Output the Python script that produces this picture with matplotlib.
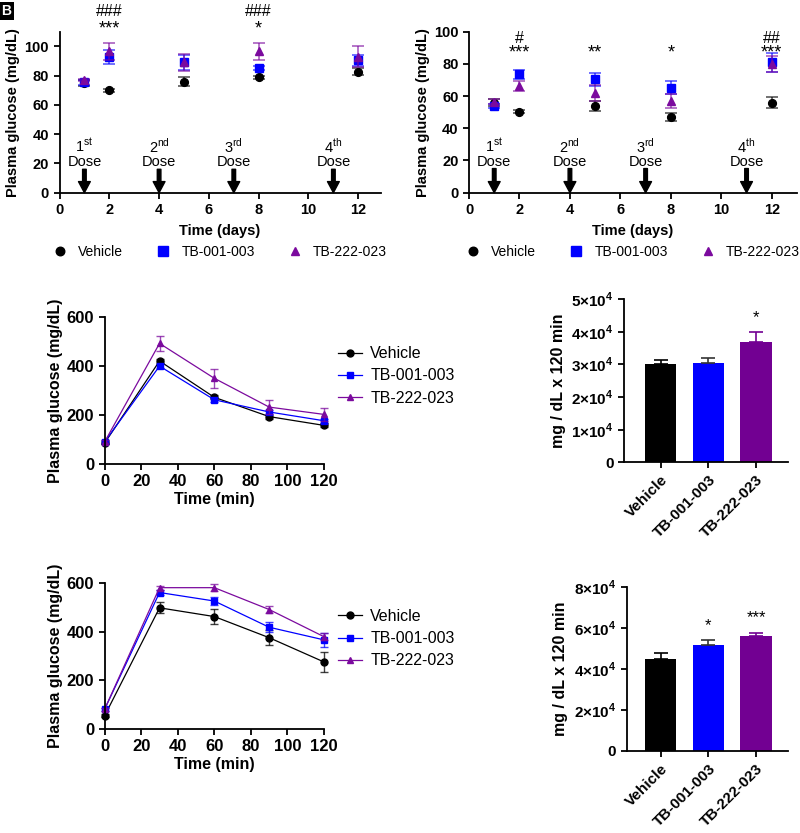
import numpy as np
import matplotlib
matplotlib.use("Agg")
import matplotlib.pyplot as plt

plt.rcParams['font.family'] = ['Liberation Sans', 'DejaVu Sans']
plt.rcParams['mathtext.fontset'] = 'custom'
plt.rcParams['mathtext.rm'] = 'Liberation Sans'
plt.rcParams['mathtext.bf'] = 'Liberation Sans:bold'

# ---- data ----
groups = ['Vehicle', 'TB-001-003', 'TB-222-023']
colors = ['black', '#0000FF', '#7B0A9E']
bar_colors = ['black', '#0000FF', '#720092']
markers = ['o', 's', '^']

days = [1, 2, 5, 8, 12]
dose_days = [1, 4, 7, 11]
dose_labels = ['1$^{\\mathrm{st}}$', '2$^{\\mathrm{nd}}$', '3$^{\\mathrm{rd}}$', '4$^{\\mathrm{th}}$']

# panel 1 (top left) daily glucose
p1_mean = [[74.9, 70.1, 75.8, 78.8, 82.6],
           [75.3, 92.7, 89.0, 85.2, 90.4],
           [77.0, 96.6, 89.0, 96.6, 93.0]]
p1_err = [[2.0, 1.0, 3.0, 1.0, 2.5],
          [1.5, 5.0, 5.0, 1.5, 3.5],
          [1.0, 6.0, 6.0, 6.0, 7.0]]
p1_stars = {2: ('###', '***'), 8: ('###', '*')}

# panel 2 (top right)
p2_mean = [[55.9, 50.3, 53.8, 46.8, 55.9],
           [53.8, 73.5, 70.4, 65.2, 81.0],
           [56.5, 66.3, 61.7, 57.1, 79.7]]
p2_err = [[2.0, 1.0, 3.0, 2.5, 3.5],
          [1.5, 3.0, 4.0, 4.0, 6.0],
          [1.5, 3.0, 5.0, 4.5, 5.0]]
p2_stars = {2: ('#', '***'), 5: ('', '**'), 8: ('', '*'), 12: ('##', '***')}

# panels 3/5 glucose tolerance
minutes = [0, 30, 60, 90, 120]
p3_mean = [[85, 421, 272, 193, 157],
           [90, 400, 262, 212, 176],
           [90, 493, 350, 232, 202]]
p3_err = [[6, 10, 8, 8, 8],
          [6, 8, 8, 8, 8],
          [6, 32, 38, 30, 25]]
p5_mean = [[55, 499, 463, 376, 276],
           [82, 562, 527, 419, 367],
           [82, 582, 582, 492, 380]]
p5_err = [[6, 22, 30, 32, 40],
          [6, 10, 15, 20, 30],
          [6, 8, 15, 15, 15]]

# panels 4/6 AUC
p4_auc = [3.01e4, 3.05e4, 3.68e4]
p4_err = [0.12e4, 0.15e4, 0.31e4]
p4_stars = ['', '', '*']
p6_auc = [4.50e4, 5.18e4, 5.62e4]
p6_err = [0.30e4, 0.24e4, 0.15e4]
p6_stars = ['', '*', '***']

W, H = 800, 833
fig = plt.figure(figsize=(W / 100, H / 100), dpi=100)


def px_axes(left, top, right, bottom):
    ax = fig.add_axes([left / W, 1 - bottom / H, (right - left) / W, (bottom - top) / H])
    ax.spines['top'].set_visible(False)
    ax.spines['right'].set_visible(False)
    for s in ['left', 'bottom']:
        ax.spines[s].set_linewidth(1.3)
    ax.tick_params(width=1.3, length=4, direction='out')
    return ax


def bold_ticks(ax, size):
    for lab in ax.get_xticklabels() + ax.get_yticklabels():
        lab.set_fontweight('bold')
        lab.set_fontsize(size)


def daily_panel(ax, means, errs, stars, star_y, hash_y, dose_txt_y, arrow_top, ylim, xlim):
    handles = []
    for m, e, c, mk, g in zip(means, errs, colors, markers, groups):
        ax.errorbar(days, m, yerr=e, fmt='none', ecolor=c, alpha=0.65,
                    elinewidth=1.2, capsize=4, capthick=1.2, clip_on=False)
        h, = ax.plot(days, m, linestyle='none', marker=mk, color=c,
                     ms=6.2 if mk == 's' else 5.6, label=g, clip_on=False)
        handles.append(h)
    for d, lab in zip(dose_days, dose_labels):
        ax.annotate('', xy=(d, 0), xytext=(d, arrow_top),
                    arrowprops=dict(facecolor='black', edgecolor='black',
                                    width=2.6, headwidth=8.5, headlength=8, shrink=0))
        ax.text(d, dose_txt_y, 'Dose', ha='center', va='center', fontsize=10.5)
        ax.text(d, dose_txt_y + 10.3 * ylim[1] / 110, lab, ha='center', va='center', fontsize=10.5)
    for d, (hs, st) in stars.items():
        if hs:
            ax.text(d, hash_y, hs, ha='center', va='center', fontsize=11.5, clip_on=False)
        ax.text(d, star_y, st, ha='center', va='center', fontsize=13, clip_on=False)
    ax.set_xlim(*xlim)
    ax.set_ylim(*ylim)
    ax.set_xticks([0, 2, 4, 6, 8, 10, 12])
    ax.set_yticks(np.arange(0, ylim[1] + 1, 20))
    ax.set_xlabel('Time (days)', fontsize=10.5, fontweight='bold', labelpad=5)
    ax.set_ylabel('Plasma glucose (mg/dL)', fontsize=10.5, fontweight='bold', labelpad=3)
    bold_ticks(ax, 10.5)
    ax.legend(handles=handles, loc='upper center', bbox_to_anchor=(0.5, -0.265), ncol=3,
              frameon=False, fontsize=10, columnspacing=2.4, handletextpad=0.8,
              handlelength=1.0, borderpad=0.2, markerscale=1.1)


def ogtt_panel(ax, means, errs, leg_anchor):
    handles = []
    for m, e, c, mk, g in zip(means, errs, colors, markers, groups):
        ax.errorbar(minutes, m, yerr=e, fmt='none', ecolor=c, alpha=0.75,
                    elinewidth=1.0, capsize=3, capthick=1.0, clip_on=False)
        h, = ax.plot(minutes, m, linestyle='-', lw=0.9, marker=mk, color=c, ms=5,
                     label=g, clip_on=False)
        handles.append(h)
    ax.set_xlim(0, 120)
    ax.set_ylim(0, 600)
    ax.set_xticks([0, 20, 40, 60, 80, 100, 120])
    ax.set_yticks([0, 200, 400, 600])
    ax.set_xlabel('Time (min)', fontsize=11.5, fontweight='bold', labelpad=2)
    ax.set_ylabel('Plasma glucose (mg/dL)', fontsize=11.5, fontweight='bold', labelpad=3)
    bold_ticks(ax, 12)
    ax.legend(handles=handles, loc='center left', bbox_to_anchor=leg_anchor,
              frameon=False, fontsize=11.5, handlelength=1.5, handletextpad=0.5,
              labelspacing=0.45)


def auc_panel(ax, vals, errs, stars, ymax, step, xlim):
    x = np.arange(len(groups))
    ax.bar(x, vals, width=0.66, color=bar_colors)
    for xi, v, e, c, s in zip(x, vals, errs, ['black', '#333333', bar_colors[2]], stars):
        ax.errorbar([xi], [v], yerr=[[0], [e]], fmt='none', ecolor=c,
                    elinewidth=1.2, capsize=5, capthick=1.2)
        if s:
            ax.text(xi, v + e + 0.045 * ymax, s, ha='center', va='bottom', fontsize=12)
    ax.set_xlim(*xlim)
    ax.set_ylim(0, ymax)
    ticks = np.arange(0, ymax + 1, step)
    ax.set_yticks(ticks)
    ax.set_yticklabels(['0'] + ['%d×10$^{\\mathbf{4}}$' % int(t / 1e4) for t in ticks[1:]])
    ax.set_xticks(x)
    ax.set_xticklabels(groups, rotation=45, ha='right', rotation_mode='anchor')
    ax.set_ylabel('mg / dL x 120 min', fontsize=11.5, fontweight='bold', labelpad=4)
    bold_ticks(ax, 11)


ax1 = px_axes(59.5, 31.7, 380.7, 192.7)
daily_panel(ax1, p1_mean, p1_err, p1_stars, 112, 123.5, 21.2, 16, (0, 110), (0, 12.9))

ax2 = px_axes(469, 31.7, 797, 192.7)
daily_panel(ax2, p2_mean, p2_err, p2_stars, 87, 96, 19.3, 15, (0, 100), (0, 13))

ax3 = px_axes(104.7, 317.3, 324, 463.7)
ogtt_panel(ax3, p3_mean, p3_err, (1.0, 0.6))

ax4 = px_axes(624, 299, 788, 462.3)
auc_panel(ax4, p4_auc, p4_err, p4_stars, 5e4, 1e4, (-0.77, 2.67))

ax5 = px_axes(104.7, 583.3, 324, 729)
ogtt_panel(ax5, p5_mean, p5_err, (1.0, 0.62))

ax6 = px_axes(626.7, 587.3, 788, 751)
auc_panel(ax6, p6_auc, p6_err, p6_stars, 8e4, 2e4, (-0.715, 2.67))

# panel letter in the corner
fig.text(0.002, 0.995, 'B', ha='left', va='top', fontsize=10, fontweight='bold', color='white',
         bbox=dict(facecolor='black', edgecolor='none', pad=1.5))

fig.savefig('out.png', dpi=100)
